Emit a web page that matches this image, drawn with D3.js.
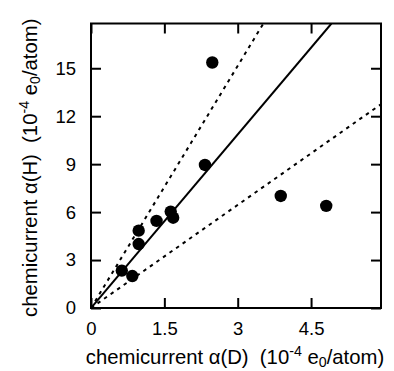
<!DOCTYPE html>
<html><head><meta charset="utf-8">
<script src="https://cdn.jsdelivr.net/npm/d3@7"></script>
<style>body{margin:0;background:#fff;} text{font-family:"Liberation Sans",Arial,sans-serif;fill:#000;}</style>
</head><body><svg id="c" width="394" height="371"></svg>
<script>
const alphaD = [2.48, 2.33, 3.88, 4.81, 1.63, 1.68, 1.34, 0.975, 0.975, 0.63, 0.845];
const alphaH = [15.36, 8.95, 7.01, 6.39, 6.03, 5.65, 5.45, 4.84, 4.0, 2.34, 2.0];
const xTicks = [0, 1.5, 3, 4.5];
const yTicks = [0, 3, 6, 9, 12, 15];
const lineSlopes = [3.62, 5.05, 2.15];
const lineStyles = ["solid", "dashed", "dashed"];

const svg = d3.select("#c");
const L = 91, R = 381, T = 23.5, B = 308;
const x = d3.scaleLinear().domain([0, 5.93]).range([L, R]);
const y = d3.scaleLinear().domain([0, 17.8]).range([B, T]);
const fs = 18.5;
const tfs = 20.3;

svg.append("clipPath").attr("id", "cl").append("rect")
  .attr("x", L).attr("y", T).attr("width", R - L).attr("height", B - T);

const g = svg.append("g").attr("clip-path", "url(#cl)");
lineSlopes.forEach((s, i) => {
  const x1 = Math.min(5.93, 17.8 / s);
  g.append("line")
    .attr("x1", x(0)).attr("y1", y(0))
    .attr("x2", x(x1)).attr("y2", y(s * x1))
    .attr("stroke", "#000").attr("stroke-width", 2)
    .attr("stroke-dasharray", lineStyles[i] === "dashed" ? "3.5,4.5" : null);
});

svg.append("g").selectAll("circle").data(alphaD).join("circle")
  .attr("cx", d => x(d)).attr("cy", (d, i) => y(alphaH[i])).attr("r", 6.2).attr("fill", "#000");

const tk = 10;
svg.append("g").attr("transform", `translate(0,${B})`)
  .call(d3.axisBottom(x).tickValues(xTicks).tickSize(-tk).tickPadding(tk + 4).tickFormat(d3.format("")))
  .call(a => a.select(".domain").remove())
  .call(a => a.selectAll("line").attr("stroke-width", 2))
  .call(a => a.selectAll("text").attr("font-size", fs).attr("font-family", "Liberation Sans, Arial"));
svg.append("g").attr("transform", `translate(0,${T})`)
  .call(d3.axisTop(x).tickValues(xTicks).tickSize(-tk).tickFormat(""))
  .call(a => a.select(".domain").remove())
  .call(a => a.selectAll("line").attr("stroke-width", 2));
svg.append("g").attr("transform", `translate(${L},0)`)
  .call(d3.axisLeft(y).tickValues(yTicks).tickSize(-tk).tickPadding(tk + 5))
  .call(a => a.select(".domain").remove())
  .call(a => a.selectAll("line").attr("stroke-width", 2))
  .call(a => a.selectAll("text").attr("font-size", fs).attr("font-family", "Liberation Sans, Arial"));
svg.append("g").attr("transform", `translate(${R},0)`)
  .call(d3.axisRight(y).tickValues(yTicks).tickSize(-tk).tickFormat(""))
  .call(a => a.select(".domain").remove())
  .call(a => a.selectAll("line").attr("stroke-width", 2));

svg.append("rect").attr("x", L).attr("y", T).attr("width", R - L).attr("height", B - T)
  .attr("fill", "none").attr("stroke", "#000").attr("stroke-width", 2);

function title(sel, letter) {
  sel.append("tspan").text(`chemicurrent \u03b1(${letter})\u00a0\u00a0(10`);
  sel.append("tspan").attr("font-size", tfs * 0.7).attr("dy", -8).text("-4");
  sel.append("tspan").attr("dy", 8).text("\u00a0e");
  sel.append("tspan").attr("font-size", tfs * 0.7).attr("dy", 3).text("0");
  sel.append("tspan").attr("dy", -3).text("/atom)");
}
const xt = svg.append("text").attr("x", (L + R) / 2 - 1).attr("y", 364).attr("text-anchor", "middle").attr("font-size", tfs);
title(xt, "D");
const yt = svg.append("text").attr("transform", `translate(37,${(T + B) / 2 + 2}) rotate(-90)`).attr("text-anchor", "middle").attr("font-size", tfs);
title(yt, "H");
</script></body></html>
